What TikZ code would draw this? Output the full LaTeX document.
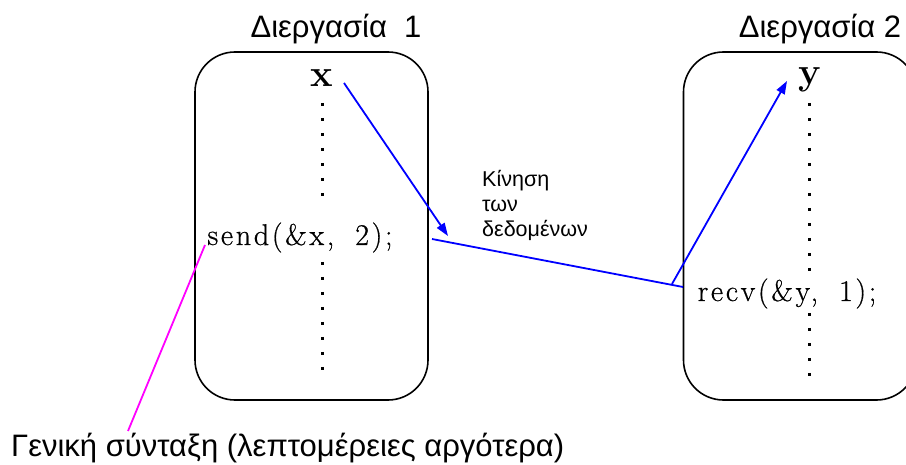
\documentclass[tikz,border=0pt]{standalone}
\usepackage{fontspec}
\usetikzlibrary{arrows.meta}
\newfontfamily\lsans{Liberation Sans}
\newfontfamily\lmcode[LetterSpace=9, FakeBold=0.6]{Latin Modern Roman}
\definecolor{hintmag}{RGB}{255,0,255}
\definecolor{flowblue}{RGB}{0,0,255}
\tikzset{
  procbox/.style={draw=black, line width=1.6pt, rounded corners=40pt, minimum width=233pt, minimum height=348pt, inner sep=0pt},
  title/.style={font=\lsans\fontsize{31}{34}\selectfont, inner sep=0pt},
  var/.style={font=\bfseries\fontsize{38}{40}\selectfont, inner sep=0pt},
  code/.style={font=\lmcode\fontsize{30}{32}\selectfont, inner sep=1pt, fill=white},
  note/.style={font=\lsans\fontsize{21.5}{25}\selectfont, inner sep=0pt, align=left},
  life/.style={line width=3pt, dash pattern=on 3.5pt off 11.5pt},
  flow/.style={draw=flowblue, line width=1.8pt},
  flowarrow/.style={flow, -{Triangle[length=13pt,width=9pt]}},
  hint/.style={draw=hintmag, line width=1.8pt}
}
\begin{document}
\begin{tikzpicture}[x=1pt,y=-1pt]
\useasboundingbox (0,0) rectangle (906,465);
% process boxes
\node[procbox] (p1) at (311.5,226) {};
\node[procbox] (p2) at (800,226) {};
% titles
\node[title, anchor=base] (t1) at (336,38) {Διεργασία\ \ 1};
\node[title, anchor=base] (t2) at (820,38) {Διεργασία 2};
% variables
\node[var, anchor=base] (x) at (322,87) {x};
\node[var, anchor=base] (y) at (810,85) {y};
% lifelines
\coordinate (l1a) at (322,103);
\coordinate (l1b) at (322,200);
\coordinate (l1c) at (322,247);
\coordinate (l1d) at (322,377);
\coordinate (l2a) at (809,103);
\coordinate (l2b) at (809,377);
\draw[life] (l1a) -- (l1b);
\draw[life] (l1c) -- (l1d);
\draw[life] (l2a) -- (l2b);
% code
\node[code, anchor=base] (send) at (300,245) {send(\&x,\hspace{21pt}2);};
\node[code, anchor=base] (recv) at (787,301) {recv(\&y,\hspace{21pt}1);};
% data movement
\coordinate (a1s) at (344,83);
\coordinate (a1e) at (448,236);
\coordinate (ms) at (432,239);
\coordinate (me) at (683,287);
\coordinate (a2s) at (672,284);
\coordinate (a2e) at (787,81);
\draw[flowarrow] (a1s) -- (a1e);
\draw[flow] (ms) -- (me);
\draw[flowarrow] (a2s) -- (a2e);
\node[note, anchor=north west] (mv) at (482,170) {Κίνηση\\των\\δεδομένων};
% general syntax
\node[title, anchor=base west] (gen) at (11,456) {Γενική σύνταξη (λεπτομέρειες αργότερα)};
\coordinate (ga) at (205,245);
\coordinate (gb) at (128,431);
\draw[hint] (ga) -- (gb);
\end{tikzpicture}
\end{document}
